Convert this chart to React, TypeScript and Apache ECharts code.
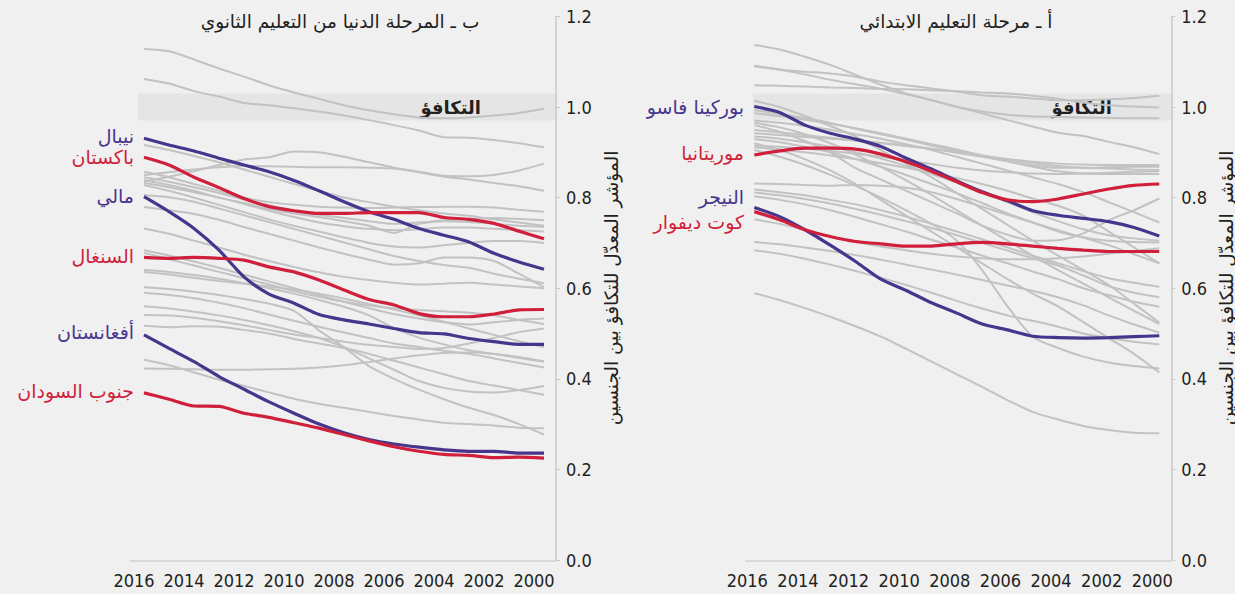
import React, { useEffect, useRef } from "react";
import * as echarts from "echarts";

// ---------- DATA ----------
const years = [2016, 2015, 2014, 2013, 2012, 2011, 2010, 2009, 2008, 2007, 2006, 2005, 2004, 2003, 2002, 2001, 2000];
const yTickValues = [0, 0.2, 0.4, 0.6, 0.8, 1.0, 1.2];

// Panel b – lower secondary (left)
const nepal = [0.931, 0.916, 0.903, 0.887, 0.872, 0.857, 0.838, 0.815, 0.791, 0.769, 0.752, 0.732, 0.717, 0.702, 0.677, 0.658, 0.642];
const pakistan = [0.889, 0.872, 0.845, 0.822, 0.798, 0.780, 0.771, 0.765, 0.765, 0.767, 0.767, 0.767, 0.756, 0.752, 0.743, 0.726, 0.709];
const mali = [0.802, 0.769, 0.732, 0.684, 0.625, 0.587, 0.567, 0.542, 0.530, 0.521, 0.511, 0.502, 0.499, 0.489, 0.482, 0.476, 0.476];
const senegal = [0.668, 0.666, 0.668, 0.666, 0.662, 0.647, 0.636, 0.618, 0.596, 0.575, 0.563, 0.544, 0.537, 0.537, 0.543, 0.552, 0.553];
const afghanistan = [0.497, 0.467, 0.438, 0.405, 0.377, 0.349, 0.324, 0.300, 0.281, 0.266, 0.256, 0.249, 0.243, 0.240, 0.240, 0.236, 0.236];
const southSudan = [0.369, 0.355, 0.340, 0.339, 0.324, 0.315, 0.303, 0.291, 0.277, 0.263, 0.250, 0.240, 0.233, 0.231, 0.226, 0.227, 0.225];

const secondaryOthers = [
  [1.128, 1.123, 1.105, 1.085, 1.067, 1.048, 1.032, 1.018, 1.004, 0.993, 0.984, 0.977, 0.975, 0.977, 0.981, 0.987, 0.996],
  [1.062, 1.052, 1.035, 1.023, 1.009, 1.004, 0.997, 0.990, 0.981, 0.971, 0.960, 0.948, 0.933, 0.932, 0.927, 0.920, 0.911],
  [0.916, 0.905, 0.892, 0.878, 0.862, 0.846, 0.830, 0.815, 0.800, 0.790, 0.780, 0.772, 0.765, 0.760, 0.752, 0.745, 0.738],
  [0.850, 0.856, 0.862, 0.867, 0.870, 0.869, 0.868, 0.867, 0.867, 0.866, 0.864, 0.857, 0.848, 0.847, 0.850, 0.860, 0.875],
  [0.835, 0.846, 0.858, 0.872, 0.884, 0.889, 0.902, 0.900, 0.890, 0.878, 0.866, 0.856, 0.846, 0.840, 0.832, 0.825, 0.815],
  [0.857, 0.845, 0.830, 0.815, 0.800, 0.790, 0.784, 0.780, 0.778, 0.777, 0.778, 0.779, 0.780, 0.780, 0.778, 0.773, 0.769],
  [0.845, 0.835, 0.823, 0.810, 0.796, 0.783, 0.771, 0.762, 0.755, 0.748, 0.742, 0.745, 0.750, 0.753, 0.755, 0.753, 0.750],
  [0.839, 0.828, 0.815, 0.800, 0.788, 0.775, 0.765, 0.757, 0.748, 0.738, 0.722, 0.742, 0.748, 0.746, 0.742, 0.738, 0.735],
  [0.832, 0.823, 0.812, 0.800, 0.786, 0.771, 0.757, 0.745, 0.737, 0.731, 0.728, 0.730, 0.734, 0.734, 0.731, 0.728, 0.725],
  [0.828, 0.815, 0.800, 0.784, 0.768, 0.752, 0.738, 0.725, 0.712, 0.700, 0.692, 0.690, 0.695, 0.700, 0.704, 0.704, 0.700],
  [0.806, 0.801, 0.791, 0.776, 0.761, 0.746, 0.731, 0.716, 0.701, 0.686, 0.671, 0.660, 0.651, 0.645, 0.632, 0.621, 0.611],
  [0.779, 0.772, 0.764, 0.751, 0.735, 0.720, 0.705, 0.690, 0.676, 0.663, 0.652, 0.655, 0.668, 0.668, 0.660, 0.632, 0.602],
  [0.732, 0.720, 0.705, 0.690, 0.674, 0.660, 0.647, 0.635, 0.625, 0.618, 0.612, 0.608, 0.610, 0.612, 0.608, 0.604, 0.600],
  [0.684, 0.672, 0.659, 0.645, 0.630, 0.615, 0.600, 0.585, 0.570, 0.556, 0.543, 0.533, 0.525, 0.520, 0.525, 0.530, 0.533],
  [0.678, 0.664, 0.650, 0.636, 0.622, 0.608, 0.594, 0.581, 0.570, 0.562, 0.556, 0.552, 0.549, 0.546, 0.540, 0.530, 0.521],
  [0.640, 0.636, 0.629, 0.621, 0.611, 0.600, 0.588, 0.574, 0.559, 0.540, 0.512, 0.491, 0.476, 0.463, 0.455, 0.446, 0.438],
  [0.636, 0.630, 0.623, 0.616, 0.610, 0.604, 0.597, 0.588, 0.577, 0.565, 0.553, 0.540, 0.526, 0.511, 0.497, 0.483, 0.470],
  [0.602, 0.598, 0.592, 0.585, 0.576, 0.566, 0.550, 0.507, 0.470, 0.428, 0.400, 0.376, 0.355, 0.336, 0.320, 0.300, 0.277],
  [0.541, 0.540, 0.535, 0.527, 0.518, 0.508, 0.498, 0.490, 0.482, 0.475, 0.470, 0.466, 0.468, 0.478, 0.490, 0.503, 0.511],
  [0.517, 0.514, 0.516, 0.515, 0.508, 0.500, 0.488, 0.478, 0.468, 0.455, 0.440, 0.425, 0.410, 0.395, 0.385, 0.375, 0.365],
  [0.442, 0.430, 0.414, 0.398, 0.384, 0.370, 0.356, 0.345, 0.336, 0.327, 0.318, 0.310, 0.303, 0.300, 0.297, 0.292, 0.291],
  [0.423, 0.422, 0.421, 0.420, 0.420, 0.421, 0.422, 0.425, 0.430, 0.437, 0.445, 0.452, 0.457, 0.458, 0.455, 0.448, 0.438],
  [0.560, 0.555, 0.548, 0.540, 0.530, 0.518, 0.505, 0.490, 0.470, 0.445, 0.420, 0.395, 0.380, 0.372, 0.370, 0.375, 0.384],
  [0.590, 0.585, 0.578, 0.568, 0.556, 0.542, 0.528, 0.515, 0.502, 0.490, 0.478, 0.470, 0.462, 0.455, 0.445, 0.435, 0.425],
];

// Panel a – primary (right)
const burkinaFaso = [1.001, 0.988, 0.960, 0.942, 0.929, 0.913, 0.887, 0.863, 0.837, 0.813, 0.793, 0.771, 0.761, 0.754, 0.747, 0.734, 0.715];
const mauritania = [0.894, 0.903, 0.909, 0.909, 0.907, 0.896, 0.879, 0.858, 0.835, 0.811, 0.795, 0.791, 0.797, 0.808, 0.819, 0.827, 0.830];
const niger = [0.778, 0.758, 0.729, 0.695, 0.659, 0.620, 0.595, 0.568, 0.545, 0.521, 0.508, 0.494, 0.491, 0.490, 0.491, 0.493, 0.495];
const coteDivoire = [0.769, 0.751, 0.729, 0.714, 0.703, 0.698, 0.693, 0.693, 0.698, 0.701, 0.698, 0.693, 0.688, 0.684, 0.681, 0.681, 0.681];

const primaryOthers = [
  [1.137, 1.127, 1.111, 1.093, 1.071, 1.049, 1.030, 1.015, 1.001, 0.986, 0.971, 0.957, 0.943, 0.936, 0.923, 0.911, 0.896],
  [1.091, 1.083, 1.078, 1.074, 1.067, 1.056, 1.048, 1.041, 1.034, 1.026, 1.023, 1.019, 1.015, 1.015, 1.017, 1.020, 1.025],
  [1.090, 1.082, 1.072, 1.060, 1.050, 1.040, 1.028, 1.015, 1.000, 0.990, 0.983, 0.979, 0.978, 0.977, 0.976, 0.975, 0.975],
  [1.048, 1.047, 1.045, 1.043, 1.042, 1.040, 1.039, 1.037, 1.035, 1.032, 1.030, 1.025, 1.018, 1.010, 1.004, 1.001, 0.999],
  [1.014, 1.000, 0.980, 0.958, 0.935, 0.905, 0.875, 0.845, 0.810, 0.775, 0.740, 0.705, 0.672, 0.640, 0.607, 0.566, 0.524],
  [0.993, 0.985, 0.975, 0.965, 0.952, 0.940, 0.928, 0.915, 0.903, 0.893, 0.884, 0.876, 0.870, 0.866, 0.864, 0.862, 0.861],
  [0.986, 0.980, 0.972, 0.963, 0.953, 0.942, 0.930, 0.918, 0.906, 0.893, 0.880, 0.868, 0.858, 0.853, 0.852, 0.852, 0.852],
  [0.960, 0.945, 0.925, 0.900, 0.865, 0.840, 0.815, 0.790, 0.765, 0.738, 0.718, 0.705, 0.706, 0.721, 0.750, 0.772, 0.798],
  [0.970, 0.965, 0.958, 0.950, 0.940, 0.930, 0.918, 0.905, 0.890, 0.875, 0.860, 0.845, 0.830, 0.812, 0.790, 0.768, 0.745],
  [0.949, 0.944, 0.938, 0.932, 0.926, 0.920, 0.914, 0.908, 0.900, 0.892, 0.885, 0.879, 0.875, 0.873, 0.872, 0.872, 0.872],
  [0.942, 0.938, 0.934, 0.930, 0.926, 0.921, 0.915, 0.908, 0.899, 0.890, 0.880, 0.871, 0.866, 0.866, 0.867, 0.868, 0.868],
  [0.935, 0.930, 0.922, 0.912, 0.900, 0.886, 0.870, 0.852, 0.833, 0.812, 0.790, 0.768, 0.748, 0.730, 0.717, 0.710, 0.705],
  [0.929, 0.922, 0.912, 0.900, 0.885, 0.868, 0.850, 0.830, 0.810, 0.788, 0.765, 0.745, 0.725, 0.712, 0.705, 0.702, 0.701],
  [0.911, 0.906, 0.900, 0.893, 0.885, 0.876, 0.866, 0.855, 0.843, 0.830, 0.815, 0.798, 0.782, 0.760, 0.725, 0.690, 0.655],
  [0.915, 0.912, 0.908, 0.903, 0.897, 0.890, 0.882, 0.874, 0.866, 0.860, 0.856, 0.853, 0.852, 0.853, 0.855, 0.857, 0.858],
  [0.965, 0.955, 0.940, 0.920, 0.895, 0.868, 0.838, 0.806, 0.772, 0.738, 0.705, 0.672, 0.640, 0.610, 0.580, 0.550, 0.521],
  [0.920, 0.905, 0.885, 0.860, 0.830, 0.795, 0.760, 0.725, 0.690, 0.655, 0.620, 0.588, 0.560, 0.525, 0.490, 0.455, 0.414],
  [0.905, 0.890, 0.872, 0.850, 0.826, 0.800, 0.772, 0.742, 0.705, 0.640, 0.560, 0.493, 0.468, 0.449, 0.436, 0.428, 0.423],
  [0.831, 0.830, 0.828, 0.826, 0.828, 0.826, 0.822, 0.812, 0.797, 0.780, 0.762, 0.745, 0.728, 0.712, 0.695, 0.675, 0.655],
  [0.818, 0.812, 0.805, 0.795, 0.785, 0.772, 0.758, 0.742, 0.725, 0.708, 0.690, 0.672, 0.655, 0.638, 0.622, 0.612, 0.603],
  [0.811, 0.805, 0.797, 0.787, 0.775, 0.762, 0.748, 0.733, 0.717, 0.700, 0.683, 0.666, 0.650, 0.628, 0.605, 0.590, 0.580],
  [0.803, 0.795, 0.785, 0.772, 0.757, 0.741, 0.725, 0.707, 0.690, 0.672, 0.655, 0.637, 0.620, 0.600, 0.585, 0.570, 0.559],
  [0.752, 0.742, 0.728, 0.714, 0.702, 0.692, 0.684, 0.676, 0.670, 0.666, 0.664, 0.664, 0.666, 0.670, 0.676, 0.682, 0.688],
  [0.702, 0.697, 0.690, 0.682, 0.673, 0.663, 0.652, 0.641, 0.630, 0.618, 0.606, 0.594, 0.580, 0.562, 0.540, 0.520, 0.502],
  [0.684, 0.676, 0.665, 0.652, 0.638, 0.623, 0.607, 0.590, 0.572, 0.555, 0.540, 0.528, 0.515, 0.500, 0.490, 0.482, 0.476],
  [0.589, 0.574, 0.556, 0.537, 0.516, 0.493, 0.466, 0.438, 0.410, 0.382, 0.353, 0.327, 0.310, 0.296, 0.287, 0.281, 0.280],
];

// Texts
const titleSecondary = "ب ـ المرحلة الدنيا من التعليم الثانوي";
const titlePrimary = "أ ـ مرحلة التعليم الابتدائي";
const yAxisTitle = "المؤشر المعدّل للتكافؤ بين الجنسين";
const parityLabel = "التكافؤ";
const parityLow = 0.97;
const parityHigh = 1.03;

const secondaryHighlights = [
  { name: "نيبال", values: nepal, color: "purple", labelY: 136 },
  { name: "باكستان", values: pakistan, color: "red", labelY: 157 },
  { name: "مالي", values: mali, color: "purple", labelY: 196 },
  { name: "السنغال", values: senegal, color: "red", labelY: 256 },
  { name: "أفغانستان", values: afghanistan, color: "purple", labelY: 332 },
  { name: "جنوب السودان", values: southSudan, color: "red", labelY: 391 },
];
const primaryHighlights = [
  { name: "بوركينا فاسو", values: burkinaFaso, color: "purple", labelY: 107 },
  { name: "موريتانيا", values: mauritania, color: "red", labelY: 153 },
  { name: "النيجر", values: niger, color: "purple", labelY: 197 },
  { name: "كوت ديفوار", values: coteDivoire, color: "red", labelY: 222 },
];

// ---------- STYLE / LAYOUT ----------
const W = 1235;
const H = 594;
const BG = "#f0f0f0";
const PURPLE = "#47358d";
const RED = "#d01f3a";
const GRAY = "#c2c2c2";
const TEXT = "#231f20";
const AXIS = "#c9c9c9";
const ARABIC = "'DejaVu Sans', 'Noto Sans', sans-serif";
const NUM = "'Liberation Sans Narrow', 'DejaVu Sans Condensed', sans-serif";

const panels = [
  { left: 144, width: 400, bandLeft: 138, axisX: 556, labelRight: 134, titleX: 340, nameX: 611, labelPad: 20, parityRight: 481 },
  { left: 754.3, width: 405, bandLeft: 753, axisX: 1171.5, labelRight: 744, titleX: 956, nameX: 1226, labelPad: 14, parityRight: 1112 },
];
const GRID_TOP = 16.4;
const GRID_H = 543.6;

const colorOf = (c: string) => (c === "purple" ? PURPLE : RED);
const toPairs = (vals: number[]) => years.map((y, i) => [y, vals[i]]);

export default function App() {
  const ref = useRef<HTMLDivElement>(null);

  useEffect(() => {
    if (!ref.current) return;
    const chart = echarts.init(ref.current, null, { renderer: "svg", width: W, height: H });

    const grids = panels.map((p) => ({ left: p.left, top: GRID_TOP, width: p.width, height: GRID_H }));
    const xAxes = panels.map((p, i) => ({
      type: "value",
      gridIndex: i,
      min: 2000,
      max: 2016,
      interval: 2,
      inverse: true,
      axisLine: { show: false },
      axisTick: { show: false },
      splitLine: { show: false },
      axisLabel: {
        margin: 11,
        fontSize: 18,
        color: TEXT,
        fontFamily: NUM,
        padding: [0, p.labelPad, 0, 0],
        formatter: (v: number) => String(v),
      },
    }));
    const yAxes = panels.map((p, i) => ({
      type: "value",
      gridIndex: i,
      position: "right",
      offset: 12,
      min: 0,
      max: 1.2,
      interval: 0.2,
      axisLine: { show: true, lineStyle: { color: AXIS, width: 1.5 } },
      axisTick: { show: true, length: 4, lineStyle: { color: AXIS, width: 1 } },
      splitLine: { show: false },
      axisLabel: {
        margin: 10,
        fontSize: 18,
        color: TEXT,
        fontFamily: NUM,
        customValues: yTickValues,
        formatter: (v: number) => v.toFixed(1),
      },
    }));

    const series: any[] = [];
    const addGray = (arr: number[][], gi: number) =>
      arr.forEach((vals) =>
        series.push({
          type: "line",
          xAxisIndex: gi,
          yAxisIndex: gi,
          data: toPairs(vals),
          symbol: "none",
          smooth: 0.25,
          silent: true,
          z: 3,
          lineStyle: { color: GRAY, width: 2 },
        })
      );
    const addHi = (arr: any[], gi: number) =>
      arr.forEach((h) =>
        series.push({
          type: "line",
          name: h.name,
          xAxisIndex: gi,
          yAxisIndex: gi,
          data: toPairs(h.values),
          symbol: "none",
          smooth: 0.25,
          silent: true,
          z: 5,
          lineStyle: { color: colorOf(h.color), width: 3.2 },
        })
      );
    addGray(secondaryOthers, 0);
    addGray(primaryOthers, 1);
    addHi(secondaryHighlights, 0);
    addHi(primaryHighlights, 1);

    chart.setOption({
      animation: false,
      backgroundColor: BG,
      grid: grids,
      xAxis: xAxes,
      yAxis: yAxes,
      series,
    });

    const py = (gi: number, v: number) => chart.convertToPixel({ gridIndex: gi }, [2008, v])[1];

    const graphics: any[] = [];
    panels.forEach((p, gi) => {
      const yTop = py(gi, parityHigh);
      const yBot = py(gi, parityLow);
      const y0 = py(gi, 0);
      const y1 = py(gi, 1);
      graphics.push({
        type: "rect",
        z: 0,
        shape: { x: p.bandLeft, y: yTop, width: p.axisX - p.bandLeft, height: yBot - yTop },
        style: { fill: "#e5e5e5" },
        silent: true,
      });
      graphics.push({
        type: "line",
        z: 1,
        shape: { x1: p.bandLeft - 8, y1: y0 + 1, x2: p.axisX, y2: y0 + 1 },
        style: { stroke: "#d8d8d8", lineWidth: 2 },
        silent: true,
      });
      graphics.push({
        type: "text",
        z: 2,
        x: p.parityRight,
        y: y1,
        style: {
          text: parityLabel,
          fontSize: 18,
          fontWeight: "bold",
          fontFamily: ARABIC,
          fill: TEXT,
          align: "right",
          verticalAlign: "middle",
        },
        silent: true,
      });
      graphics.push({
        type: "text",
        x: p.titleX,
        y: 21,
        style: {
          text: gi === 0 ? titleSecondary : titlePrimary,
          fontSize: 18.5,
          fontFamily: ARABIC,
          fill: TEXT,
          align: "center",
          verticalAlign: "middle",
        },
        silent: true,
      });
      graphics.push({
        type: "text",
        x: p.nameX,
        y: 288,
        rotation: Math.PI / 2,
        style: {
          text: yAxisTitle,
          fontSize: 18.5,
          fontFamily: ARABIC,
          fill: TEXT,
          align: "center",
          verticalAlign: "middle",
        },
        silent: true,
      });
      const hs = gi === 0 ? secondaryHighlights : primaryHighlights;
      hs.forEach((h) =>
        graphics.push({
          type: "text",
          x: p.labelRight,
          y: h.labelY,
          style: {
            text: h.name,
            fontSize: 19,
            fontFamily: ARABIC,
            fill: colorOf(h.color),
            align: "right",
            verticalAlign: "middle",
          },
          silent: true,
        })
      );
    });

    chart.setOption({ graphic: graphics });

    return () => chart.dispose();
  }, []);

  return (
    <div
      ref={ref}
      style={{ position: "fixed", left: 0, top: 0, width: W, height: H, background: BG }}
    />
  );
}
